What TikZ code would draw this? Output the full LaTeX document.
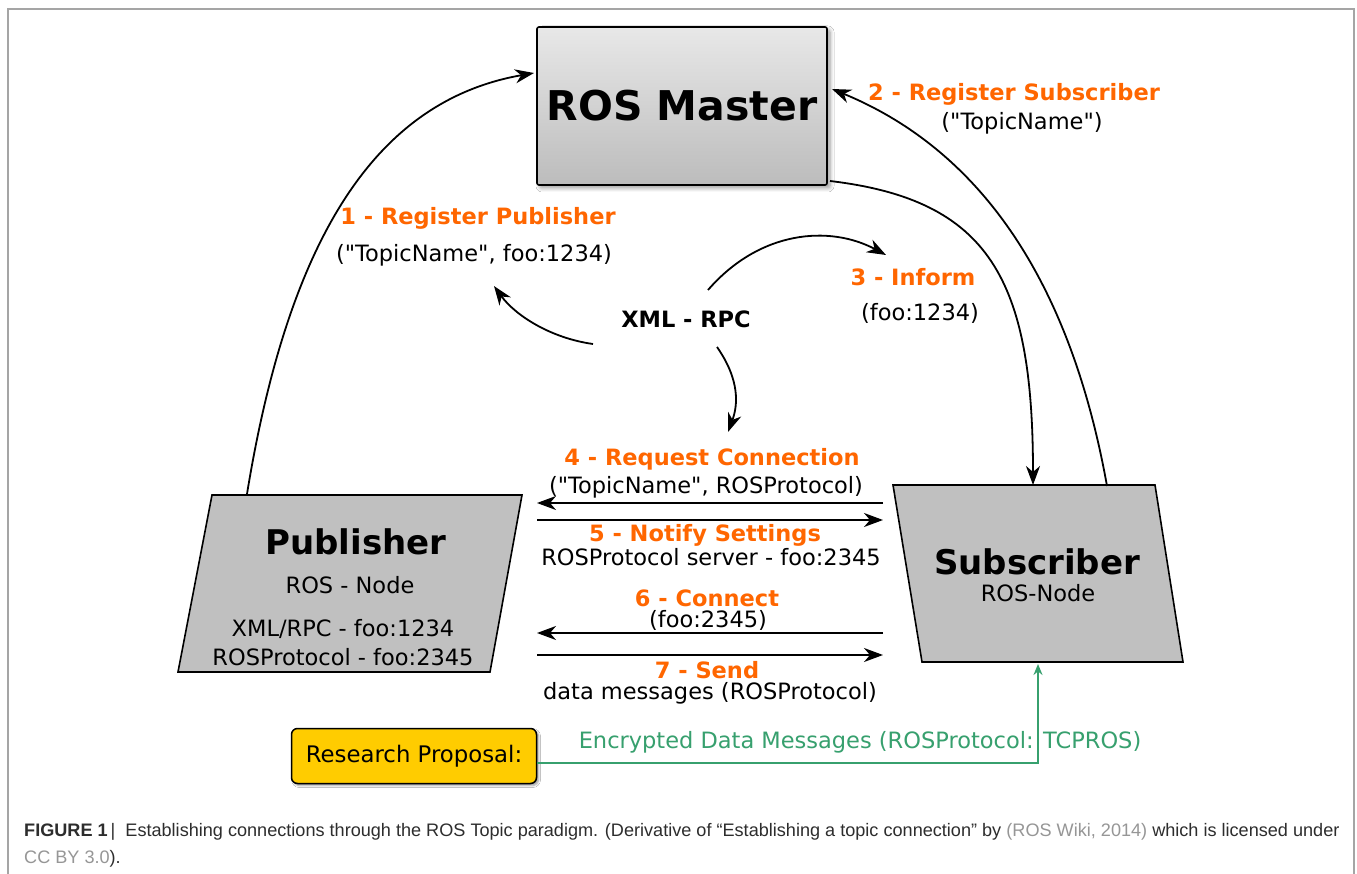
\documentclass[tikz,border=0pt]{standalone}
\usepackage{fontspec}
\setmainfont{DejaVu Sans}[Ligatures=TeXOff]
\newfontfamily\capfont{Liberation Sans}
\usetikzlibrary{arrows.meta,shadows.blur}
\definecolor{rosorange}{RGB}{255,102,0}
\definecolor{rosgreen}{RGB}{55,160,110}
\definecolor{rosyellow}{RGB}{255,204,0}
\definecolor{nodegray}{RGB}{192,192,192}
\definecolor{framegray}{RGB}{165,165,165}
\definecolor{capgray}{RGB}{150,150,150}
\definecolor{captext}{RGB}{45,45,45}
\begin{document}
\begin{tikzpicture}[x=1pt,y=-1pt,
  arr/.style={line width=1.8pt,-{Stealth[length=19pt,width=14pt,inset=6pt]}},
  lbl/.style={text=rosorange,font=\fontsize{22.5}{26}\selectfont\bfseries,inner sep=0pt},
  txt/.style={font=\fontsize{22.5}{26}\selectfont,inner sep=0pt},
  para/.style={draw=black,fill=nodegray,line width=1.6pt,line join=miter},
  masterbox/.style={draw=black,line width=1.6pt,rounded corners=2pt,
    minimum width=290pt,minimum height=158pt,inner sep=0pt,
    top color={rgb,255:red,232;green,232;blue,232},bottom color={rgb,255:red,188;green,188;blue,188},
    blur shadow={shadow xshift=3pt,shadow yshift=-3pt,shadow blur steps=6,shadow blur radius=4pt},
    font=\fontsize{41}{48}\selectfont\bfseries},
  propbox/.style={draw=black,line width=1.5pt,rounded corners=6pt,fill=rosyellow,
    minimum width=245pt,minimum height=55pt,inner sep=0pt,
    blur shadow={shadow xshift=2pt,shadow yshift=-2pt,shadow blur steps=4,shadow blur radius=2pt},
    font=\fontsize{22.8}{26}\selectfont},
  captionfont/.style={font=\capfont\fontsize{18.1}{22}\selectfont,inner sep=0pt,anchor=west,text=captext}]
\useasboundingbox (0,0) rectangle (1357,874);
\fill[white] (0,0) rectangle (1357,874);
% frame
\draw[framegray,line width=1.5pt] (8,874) -- (8,9) -- (1354,9) -- (1354,874);

% ROS Master
\node[masterbox] (master) at (682,106) {ROS Master};

% Publisher
\draw[para] (212,495) -- (522,495) -- (490,672) -- (178,672) -- cycle;
\node[font=\fontsize{34}{40}\selectfont\bfseries,inner sep=0pt] (pub) at (356,542) {Publisher};
\node[txt] (pubsub) at (350,585) {ROS - Node};
\node[txt,align=center,font=\fontsize{22.5}{29}\selectfont] (pubinfo) at (343,643) {XML/RPC - foo:1234\\ROSProtocol - foo:2345};

% Subscriber
\draw[para] (893,485) -- (1155,485) -- (1183,662) -- (922,662) -- cycle;
\node[font=\fontsize{34}{40}\selectfont\bfseries,inner sep=0pt] (sub) at (1037,562) {Subscriber};
\node[txt] (subsub) at (1038,593) {ROS-Node};

% connector end points
\coordinate (pubtop) at (247,494);
\coordinate (masterW) at (534,73);
\coordinate (subtop) at (1107,486);
\coordinate (masterE) at (832,89);
\coordinate (masterSE) at (830,181);
\coordinate (subtopin) at (1033,485);
\coordinate (pubR4) at (537,503);
\coordinate (subL4) at (883,503);
\coordinate (pubR5) at (537,520);
\coordinate (subL5) at (883,520);
\coordinate (pubR6) at (537,633);
\coordinate (subL6) at (883,633);
\coordinate (pubR7) at (537,655);
\coordinate (subL7) at (883,655);
\coordinate (subbot) at (1038,664);

% big curves
\draw[arr] (pubtop) .. controls (290,230) and (380,100) .. (masterW);
\draw[arr] (subtop) .. controls (1070,280) and (980,150) .. (masterE);
\draw[arr] (masterSE) .. controls (990,200) and (1033,280) .. (subtopin);

% XML-RPC
\node[font=\fontsize{22.5}{26}\selectfont\bfseries,inner sep=0pt] (xml) at (686,319) {XML - RPC};
\coordinate (x1s) at (593,344); \coordinate (x1e) at (494,286);
\coordinate (x2s) at (708,290); \coordinate (x2e) at (886,255);
\coordinate (x3s) at (717,347); \coordinate (x3e) at (728,432);
\draw[arr] (x1s) .. controls (550,338) and (515,315) .. (x1e);
\draw[arr] (x2s) .. controls (760,230) and (830,225) .. (x2e);
\draw[arr] (x3s) .. controls (740,380) and (738,405) .. (x3e);

% labels
\node[lbl] (l1) at (478,218) {1 - Register Publisher};
\node[txt] (l1b) at (474,255) {("TopicName", foo:1234)};
\node[lbl] (l2) at (1014,94) {2 - Register Subscriber};
\node[txt] (l2b) at (1022,123) {("TopicName")};
\node[lbl] (l3) at (913,277) {3 - Inform};
\node[txt] (l3b) at (920,313) {(foo:1234)};

% horizontal arrows
\draw[arr] (subL4) -- (pubR4);
\draw[arr] (pubR5) -- (subL5);
\draw[arr] (subL6) -- (pubR6);
\draw[arr] (pubR7) -- (subL7);
\node[lbl] (l4) at (712,459) {4 - Request Connection};
\node[txt] (l4b) at (706,487) {("TopicName", ROSProtocol)};
\node[lbl] (l5) at (705,535) {5 - Notify Settings};
\node[txt] (l5b) at (711,557) {ROSProtocol server - foo:2345};
\node[lbl] (l6) at (707,598) {6 - Connect};
\node[txt] (l6b) at (708,620) {(foo:2345)};
\node[lbl] (l7) at (707,670) {7 - Send};
\node[txt] (l7b) at (710,693) {data messages (ROSProtocol)};

% research proposal
\node[propbox] (rp) at (414,756) {Research Proposal:};
\draw[rosgreen,line width=1.8pt,-{Stealth[length=11pt,width=9pt]}] ([yshift=-7pt]rp.east) -| (subbot);
\node[txt,text=rosgreen] (enc) at (860,742) {Encrypted Data Messages (ROSProtocol: TCPROS)};

% caption
\node[captionfont] (cap1) at (24,832) {\textbf{FIGURE 1}\,|\ \ Establishing connections through the ROS Topic paradigm. (Derivative of “Establishing a topic connection” by {\color{capgray}(ROS Wiki, 2014)} which is licensed under};
\node[captionfont] (cap2) at (24,859) {{\color{capgray}CC BY 3.0}).};
\end{tikzpicture}
\end{document}
